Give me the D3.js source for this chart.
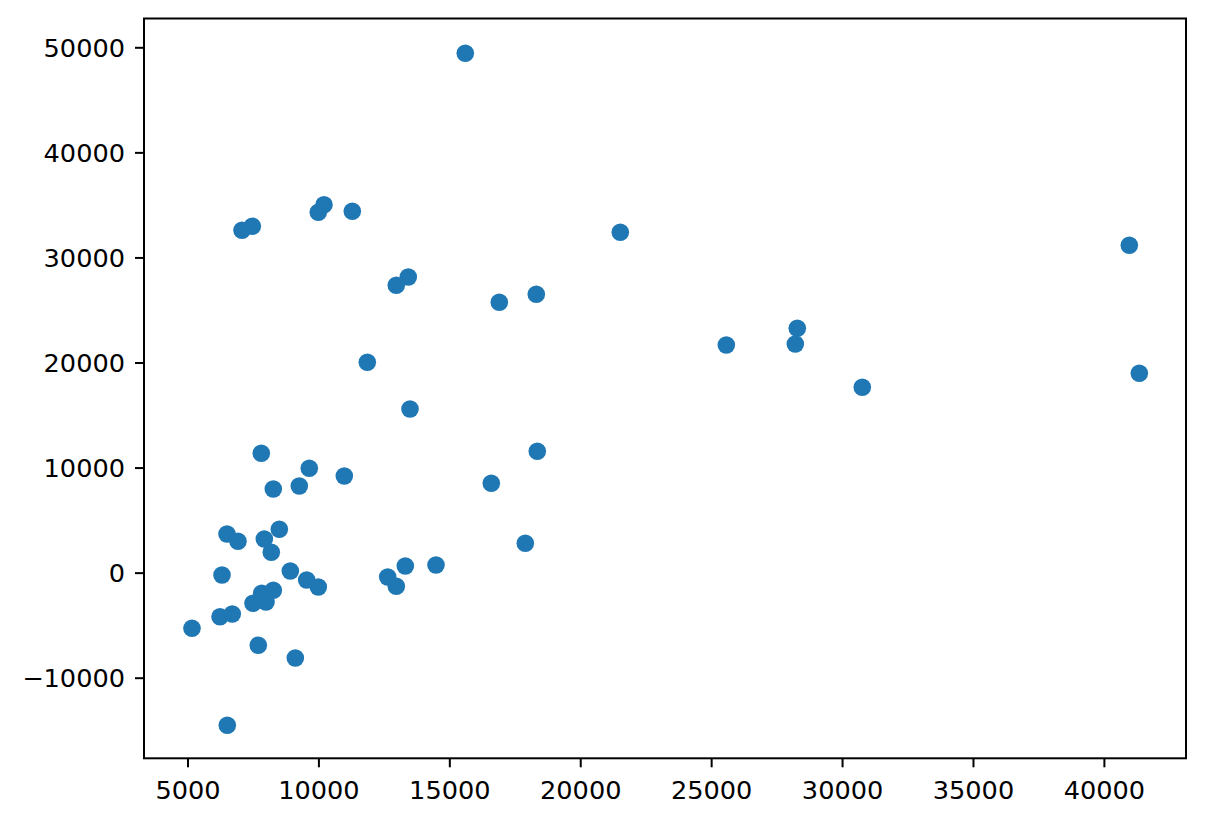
<!DOCTYPE html>
<html>
<head>
<meta charset="utf-8">
<script src="https://cdn.jsdelivr.net/npm/d3@7/dist/d3.min.js"></script>
<style>
  html, body { margin: 0; padding: 0; background: #fff; }
  svg { display: block; }
  text { font-family: "DejaVu Sans", sans-serif; }
</style>
</head>
<body>
<svg id="chart" width="1205" height="822"></svg>
<script>
// Data values
const xValues = [15610, 7082, 7475, 9996, 10214, 11295, 21530, 40971, 12975, 13433,
  16909, 18322, 25579, 28290, 28214, 11868, 30773, 41353, 13498, 7819,
  18360, 9652, 10989, 9270, 8277, 16603, 6509, 6929, 8507, 7934,
  8201, 17902, 6318, 8927, 9553, 9996, 12647, 12975, 13319, 14491,
  7834, 8277, 7502, 7999, 6242, 6711, 5172, 7704, 9118, 6520];
const yValues = [49429, 32583, 32964, 34296, 35019, 34391, 32393, 31155, 27348, 28138,
  25730, 26492, 21666, 23256, 21762, 20020, 17640, 18973, 15575, 11359,
  11549, 9931, 9198, 8247, 7961, 8504, 3678, 2983, 4126, 3202,
  1937, 2793, -224, 157, -700, -1366, -414, -1299, 633, 728,
  -1966, -1680, -2917, -2794, -4193, -3936, -5297, -6915, -8123, -14529];
const xTicks = [5000, 10000, 15000, 20000, 25000, 30000, 35000, 40000];
const yTicks = [-10000, 0, 10000, 20000, 30000, 40000, 50000];
const xDomain = [3339, 43136];
const yDomain = [-17671, 52741];

(function () {
  const points = xValues.map((v, i) => ({ x: v, y: yValues[i] }));

  const plotLeft = 144, plotRight = 1186, plotTop = 18.5, plotBottom = 758.3;
  const svg = d3.select("#chart");

  const x = d3.scaleLinear().domain(xDomain).range([plotLeft, plotRight]);
  const y = d3.scaleLinear().domain(yDomain).range([plotBottom, plotTop]);

  const fmt = d => d < 0 ? "\u2212" + Math.abs(d) : String(d);
  const fontSize = 25.6;

  // points
  svg.append("g").selectAll("circle")
    .data(points)
    .join("circle")
    .attr("cx", d => x(d.x))
    .attr("cy", d => y(d.y))
    .attr("r", 8.8)
    .attr("fill", "#1f77b4");

  // x axis
  const xAxis = d3.axisBottom(x).tickValues(xTicks).tickFormat(fmt).tickSize(9).tickPadding(9);
  const gx = svg.append("g").attr("transform", `translate(0,${plotBottom})`).call(xAxis);
  gx.select(".domain").remove();
  gx.selectAll(".tick line").attr("stroke", "#000").attr("stroke-width", 2);
  gx.selectAll(".tick text").attr("fill", "#000").attr("font-size", fontSize)
    .attr("font-family", "DejaVu Sans, sans-serif").attr("dy", null).attr("y", 41);

  // y axis
  const yAxis = d3.axisLeft(y).tickValues(yTicks).tickFormat(fmt).tickSize(9).tickPadding(10);
  const gy = svg.append("g").attr("transform", `translate(${plotLeft},0)`).call(yAxis);
  gy.select(".domain").remove();
  gy.selectAll(".tick line").attr("stroke", "#000").attr("stroke-width", 2);
  gy.selectAll(".tick text").attr("fill", "#000").attr("font-size", fontSize)
    .attr("font-family", "DejaVu Sans, sans-serif").attr("dy", "0.36em");

  // frame
  svg.append("rect")
    .attr("x", plotLeft).attr("y", plotTop)
    .attr("width", plotRight - plotLeft).attr("height", plotBottom - plotTop)
    .attr("fill", "none").attr("stroke", "#000").attr("stroke-width", 2);
})();
</script>
</body>
</html>
